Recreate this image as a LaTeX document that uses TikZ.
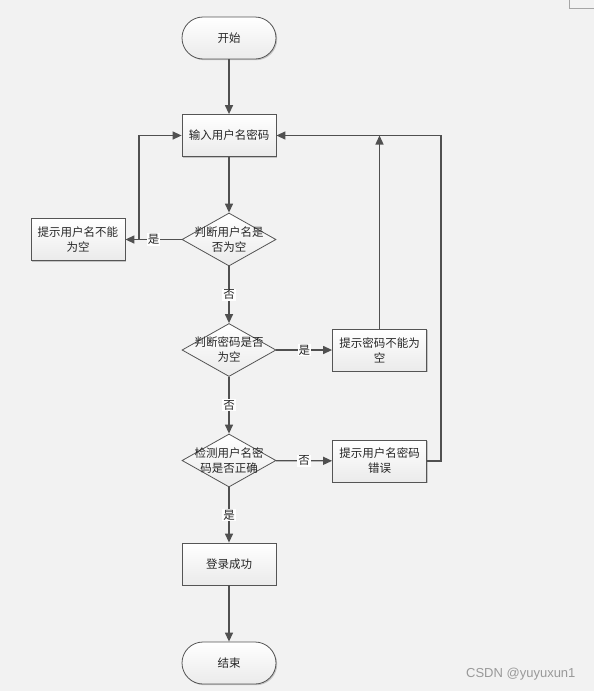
\documentclass[tikz,border=0pt]{standalone}
\usepackage{fontspec}
\newfontfamily\cjk{Noto Sans CJK SC}
\newfontfamily\wmfont{Liberation Sans}
\usetikzlibrary{shapes.geometric,arrows.meta,shadows}
\definecolor{bg}{HTML}{F2F2F2}
\definecolor{ln}{HTML}{505050}
\definecolor{bd}{HTML}{555555}
\begin{document}
\begin{tikzpicture}[x=1pt,y=-1pt,
  every node/.style={font=\cjk\fontsize{11.5}{15}\selectfont, text=black!85},
  shade/.style={drop shadow={shadow xshift=1.2pt, shadow yshift=-1.2pt, fill=black!35, opacity=0.6}},
  proc/.style={draw=bd, line width=0.8pt, minimum width=94pt, minimum height=42pt,
    top color=white, bottom color=black!8, align=center, inner sep=2pt, shade},
  term/.style={proc, rounded corners=21pt},
  dec/.style={diamond, draw=bd, line width=0.8pt, minimum width=94pt, minimum height=53pt,
    aspect=1.77, inner sep=0pt, top color=white, bottom color=black!8},
  conn/.style={draw=ln, line width=1.3pt, -{Triangle[length=9pt,width=8pt]}},
  lab/.style={fill=white, inner sep=1pt}]
\fill[bg] (0,0) rectangle (594,691);
\useasboundingbox (0,0) rectangle (594,691);
\draw[black!35, line width=0.8pt] (569,0) -- (569,8) -- (594,8);

\node[term] (start) at (229,38) {开始};
\node[proc] (input) at (229,135.5) {输入用户名密码};
\node[dec, label={[align=center]center:{判断用户名是\\否为空}}] (d1) at (229,239.5) {};
\node[proc] (e1) at (78,239.5) {提示用户名不能\\为空};
\node[dec, label={[align=center]center:{判断密码是否\\为空}}] (d2) at (229,350) {};
\node[proc] (e2) at (379.5,350) {提示密码不能为\\空};
\node[dec, label={[align=center]center:{检测用户名密\\码是否正确}}] (d3) at (229,460.5) {};
\node[proc] (e3) at (379.5,461) {提示用户名密码\\错误};
\node[proc] (ok) at (229,564) {登录成功};
\node[term] (end) at (229,663) {结束};

\coordinate (j1) at (139,239.5);
\coordinate (r3) at (441,461);

\draw[conn] (start) -- (input);
\draw[conn] (input) -- (d1);
\draw[conn] (d1) -- node[lab]{是} (e1);
\draw[conn] (j1) |- (input.west);
\draw[conn] (d1) -- node[lab]{否} (d2);
\draw[conn] (d2) -- node[lab]{是} (e2);
\draw[conn] (e2.north) -- (e2.north |- input.east);
\draw[conn] (d2) -- node[lab]{否} (d3);
\draw[conn] (d3) -- node[lab]{否} (e3);
\draw[conn] (e3.east) -- (r3) |- (input.east);
\draw[conn] (d3) -- node[lab]{是} (ok);
\draw[conn] (ok) -- (end);

\node[font=\wmfont\fontsize{13}{13}\selectfont, text=black!40, anchor=east] (wm) at (579,674) {CSDN @yuyuxun1};
\end{tikzpicture}
\end{document}
